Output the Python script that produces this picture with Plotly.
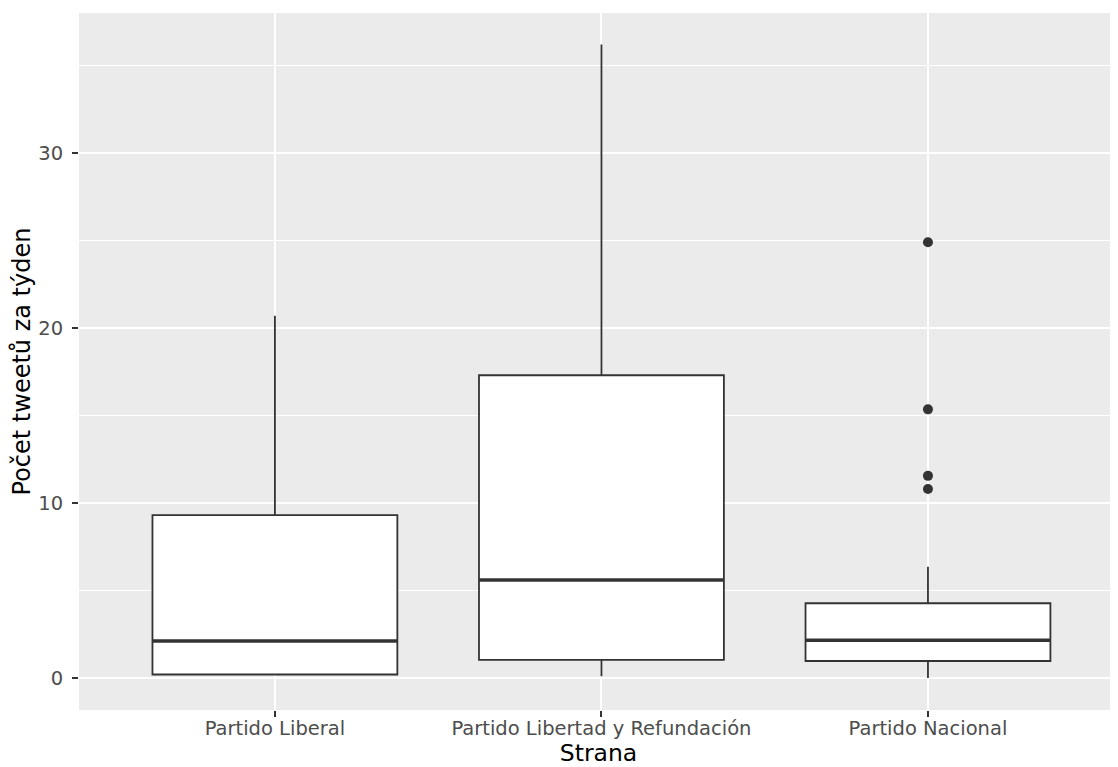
import plotly.graph_objects as go

categories = ["Partido Liberal", "Partido Libertad y Refundación", "Partido Nacional"]
q1 = [0.2, 1.03, 0.97]
median = [2.11, 5.6, 2.15]
q3 = [9.31, 17.3, 4.27]
lower = [0.2, 0.1, 0.0]
upper = [20.7, 36.2, 6.36]
outlier_cat = [3, 3, 3, 3]
outlier_val = [24.9, 15.35, 11.55, 10.8]

positions = [1, 2, 3]
box_width = 0.75
dark = "#333333"

fig = go.Figure()
fig.add_trace(go.Box(
    x=positions, q1=q1, median=median, q3=q3,
    lowerfence=lower, upperfence=upper,
    width=box_width, whiskerwidth=0,
    fillcolor="white", line=dict(color=dark, width=1.8),
    boxpoints=False, showlegend=False, hoverinfo="skip",
))
for p, m in zip(positions, median):
    fig.add_trace(go.Scatter(
        x=[p - box_width / 2, p + box_width / 2], y=[m, m],
        mode="lines", line=dict(color=dark, width=3.5),
        showlegend=False, hoverinfo="skip",
    ))
fig.add_trace(go.Scatter(
    x=outlier_cat, y=outlier_val, mode="markers",
    marker=dict(color=dark, size=10), showlegend=False,
))

fig.update_layout(
    width=1110, height=759,
    margin=dict(l=71, r=0, t=5, b=57, autoexpand=False),
    paper_bgcolor="white", plot_bgcolor="#EBEBEB",
    font=dict(family="DejaVu Sans", color="#000000"),
)
fig.update_xaxes(
    range=[0.4, 3.582], tickvals=positions, ticktext=categories,
    showgrid=True, gridcolor="white", gridwidth=2, zeroline=False,
    ticks="outside", ticklen=6, tickwidth=1.5, tickcolor=dark,
    tickfont=dict(size=19.5, color="#4D4D4D"), automargin=False,
    ticklabelstandoff=-5,
    title=dict(text="Strana", font=dict(size=23.5), standoff=10),
)
fig.update_yaxes(
    range=[-1.83, 38.0], tickvals=[0, 10, 20, 30],
    showgrid=True, gridcolor="white", gridwidth=2, zeroline=False,
    minor=dict(tickvals=[5, 15, 25, 35], showgrid=True, gridcolor="white", gridwidth=1),
    ticks="outside", ticklen=6, tickwidth=1.5, tickcolor=dark,
    tickfont=dict(size=19.5, color="#4D4D4D"), automargin=False,
    ticklabelstandoff=5,
    title=dict(text="Počet tweetů za týden", font=dict(size=24), standoff=8),
)

fig.write_html("out.html")
